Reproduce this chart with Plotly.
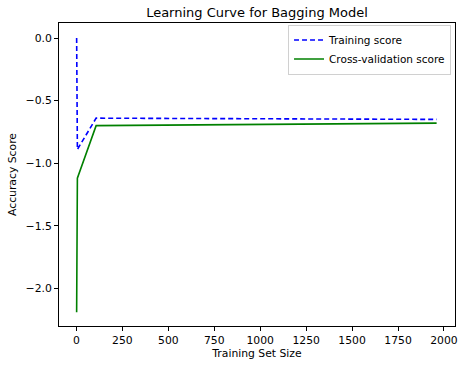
import plotly.graph_objects as go

train_sizes = [1, 5, 107, 1000, 1960]
train_scores = [0.0, -0.89, -0.64, -0.645, -0.65]
cv_scores = [-2.19, -1.12, -0.70, -0.69, -0.68]

x_ticks = [0, 250, 500, 750, 1000, 1250, 1500, 1750, 2000]
y_ticks = [-2.0, -1.5, -1.0, -0.5, 0.0]

fig = go.Figure()
fig.add_trace(go.Scatter(x=train_sizes, y=train_scores, mode="lines",
                         name="Training score",
                         line=dict(color="blue", width=1.6, dash="5px,3px")))
fig.add_trace(go.Scatter(x=train_sizes, y=cv_scores, mode="lines",
                         name="Cross-validation score",
                         line=dict(color="green", width=1.6)))

font = "DejaVu Sans, sans-serif"
fs = 10.8
fig.update_layout(
    width=466, height=366,
    margin=dict(l=59, r=11, t=23, b=40, autoexpand=False),
    paper_bgcolor="white", plot_bgcolor="white",
    font=dict(family=font, size=fs, color="black"),
    title=dict(text="Learning Curve for Bagging Model", x=0.5, xref="paper",
               xanchor="center", y=1 - 12 / 366, yanchor="middle",
               font=dict(size=13, family=font, color="black")),
    showlegend=True,
    legend=dict(x=0.99, y=0.995, xanchor="right", yanchor="top",
                bgcolor="white", bordercolor="#d0d0d0", borderwidth=1,
                itemwidth=30,
                font=dict(size=10.5, family=font), tracegroupgap=0),
    xaxis=dict(range=[-95, 2060], tickvals=x_ticks,
               ticktext=[str(v) for v in x_ticks],
               showgrid=False, zeroline=False, showline=True, mirror=True,
               linecolor="black", linewidth=1, ticks="outside", ticklen=4,
               tickcolor="black", automargin=False,
               title=dict(text="Training Set Size", standoff=3,
                          font=dict(size=fs, family=font))),
    yaxis=dict(range=[-2.30, 0.12], tickvals=y_ticks, tickformat=".1f",
               showgrid=False, zeroline=False, showline=True, mirror=True,
               linecolor="black", linewidth=1, ticks="outside", ticklen=4,
               tickcolor="black", automargin=False,
               title=dict(text="Accuracy Score", standoff=6,
                          font=dict(size=fs, family=font))),
)

fig.write_html("out.html", config={"displayModeBar": False},
               post_script="document.body.style.margin='0';document.body.style.padding='0';")
